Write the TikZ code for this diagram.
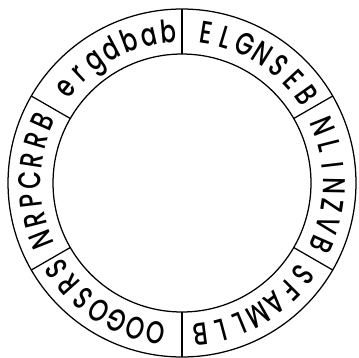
\documentclass[tikz,border=0pt]{standalone}
\usepackage{fontspec}
\newfontfamily\ringfont{Poppins}[UprightFont={* Medium}, FakeStretch=0.74]
\begin{document}
\begin{tikzpicture}[ring/.style={line width=1pt},
  letter/.style={font=\ringfont\fontsize{25}{29}\selectfont, inner sep=0pt, anchor=base}]
  \useasboundingbox (-5.084,-4.888) rectangle (4.916,5.112);
  % the two rims and the six cuts
  \draw[ring] (0,0) circle (4.86);
  \draw[ring] (0,0) circle (3.603);
  \foreach \a in {30,90,...,330} \draw[ring] (\a:3.603) -- (\a:4.86);
  % letters, read clockwise with their tops outwards
  \foreach \m/\ls in {118/{e,r,g,d,b,a,b}, 58/{E,L,G,N,S,E,B}, -1/{N,L,I,N,Z,V,B},
                      -60/{S,F,A,M,L,L,B}, -123/{O,O,G,O,S,R,S}, 179/{N,R,P,C,R,R,B}}
    \foreach \c [count=\i] in \ls {
      \pgfmathsetmacro\ang{\m+(4-\i)*7.6}
      \node[letter, rotate=\ang-90] (c\i) at (\ang:3.94) {\c};
    }
\end{tikzpicture}
\end{document}
